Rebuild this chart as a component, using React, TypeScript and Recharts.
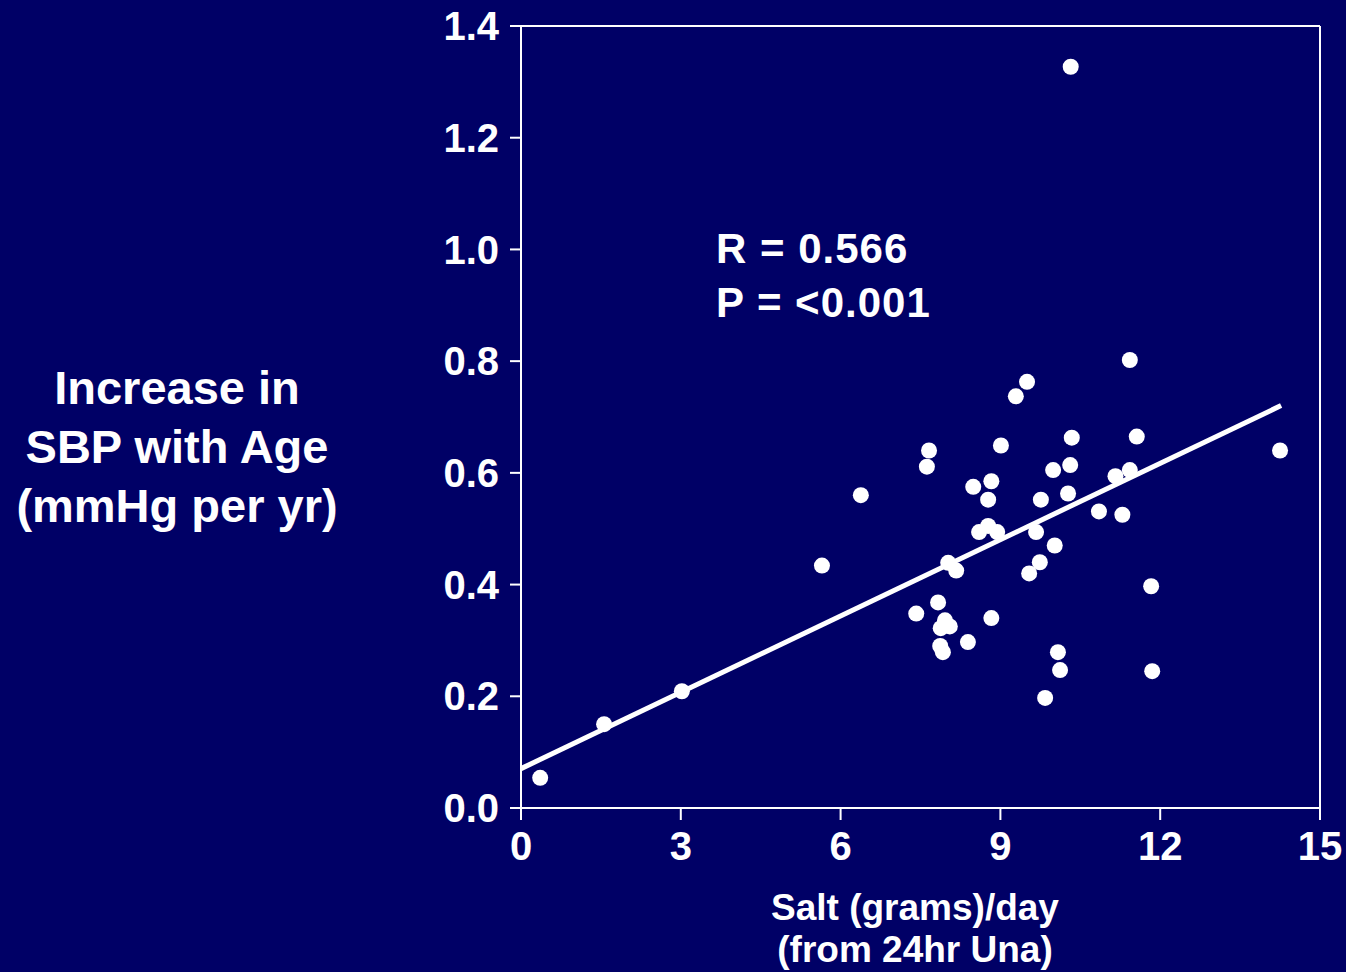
import React from 'react';
import {
  ScatterChart,
  Scatter,
  XAxis,
  YAxis,
  ReferenceLine,
  Customized,
} from 'recharts';

const saltGramsPerDay = [
  0.36, 1.56, 3.02, 5.65, 6.38, 7.42, 7.66, 7.62, 7.83, 7.88, 7.96, 8.05, 7.87, 7.92,
  8.02, 8.17, 8.39, 8.49, 8.6, 8.77, 8.94, 8.77, 8.83, 8.83, 9.01, 9.29, 9.5, 9.54,
  9.67, 9.74, 9.76, 9.84, 10.02, 9.99, 10.08, 10.12, 10.27, 10.31, 10.34, 10.32,
  10.85, 11.16, 11.29, 11.43, 11.43, 11.56, 11.83, 11.85, 14.25,
];
const sbpIncreasePerYear = [
  0.054, 0.15, 0.209, 0.434, 0.56, 0.348, 0.64, 0.611, 0.368, 0.322, 0.336, 0.325,
  0.29, 0.279, 0.439, 0.425, 0.297, 0.575, 0.494, 0.505, 0.494, 0.552, 0.585, 0.34,
  0.649, 0.737, 0.763, 0.42, 0.494, 0.44, 0.552, 0.197, 0.47, 0.605, 0.279, 0.247,
  0.563, 0.614, 0.663, 1.327, 0.531, 0.594, 0.525, 0.605, 0.802, 0.665, 0.397, 0.245,
  0.64,
];
const xTicks = [0, 3, 6, 9, 12, 15];
const yTicks = [0, 0.2, 0.4, 0.6, 0.8, 1.0, 1.2, 1.4];
const fitStart = { x: 0, y: 0.0705 };
const fitEnd = { x: 14.27, y: 0.7205 };
const statLines = ['R = 0.566', 'P = <0.001'];
const yTitleLines = ['Increase in', 'SBP with Age', '(mmHg per yr)'];
const xTitleLines = ['Salt (grams)/day', '(from 24hr Una)'];

const points = saltGramsPerDay.map((x, i) => ({ x, y: sbpIncreasePerYear[i] }));

const BG = '#000066';
const FONT = '"Liberation Sans", Arial, Helvetica, sans-serif';

const Dot = (props: any) => {
  const { cx, cy } = props;
  if (cx == null || cy == null) return null;
  return <circle cx={cx} cy={cy} r={8} fill="#ffffff" />;
};

const Texts = () => (
  <g fontFamily={FONT} fontWeight={700} fill="#ffffff">
    {yTitleLines.map((t, i) => (
      <text key={t} x={177} y={404 + i * 59} textAnchor="middle" fontSize={47} fill="#ffffff">
        {t}
      </text>
    ))}
    {xTitleLines.map((t, i) => (
      <text key={t} x={915} y={920 + i * 42} textAnchor="middle" fontSize={37} fill="#ffffff">
        {t}
      </text>
    ))}
    {statLines.map((t, i) => (
      <text key={t} x={716} y={263 + i * 54} fontSize={42} letterSpacing={1} fill="#ffffff">
        {t}
      </text>
    ))}
  </g>
);

export default function App() {
  const tickStyle = { fill: '#ffffff', fontSize: 40, fontWeight: 700, fontFamily: FONT };
  const line = { stroke: '#ffffff', strokeWidth: 2 };
  return (
    <div style={{ position: 'absolute', left: 0, top: 0, width: 1346, height: 972, background: BG }}>
      <ScatterChart width={1346} height={972} margin={{ top: 26, right: 0, bottom: 0, left: 0 }}>
        <XAxis
          type="number"
          dataKey="x"
          domain={[0, 15]}
          ticks={xTicks}
          interval={0}
          height={164}
          tickSize={12}
          tickMargin={12}
          axisLine={line}
          tickLine={line}
          tick={tickStyle}
        />
        <YAxis
          type="number"
          dataKey="y"
          domain={[0, 1.4]}
          ticks={yTicks}
          interval={0}
          width={521}
          tickSize={11}
          tickMargin={11}
          axisLine={line}
          tickLine={line}
          tick={tickStyle}
          tickFormatter={(v: number) => v.toFixed(1)}
        />
        <YAxis
          yAxisId="right"
          orientation="right"
          type="number"
          domain={[0, 1.4]}
          ticks={yTicks}
          interval={0}
          width={26}
          tickSize={-11}
          axisLine={line}
          tickLine={line}
          tick={false}
        />
        <ReferenceLine y={1.4} stroke="#ffffff" strokeWidth={2} ifOverflow="extendDomain" />
        <ReferenceLine x={15} stroke="#ffffff" strokeWidth={2} ifOverflow="extendDomain" />
        <ReferenceLine
          segment={[fitStart, fitEnd]}
          stroke="#ffffff"
          strokeWidth={5}
          ifOverflow="visible"
        />
        <Scatter data={points} fill="#ffffff" shape={Dot} isAnimationActive={false} />
        <Customized component={Texts} />
      </ScatterChart>
    </div>
  );
}
